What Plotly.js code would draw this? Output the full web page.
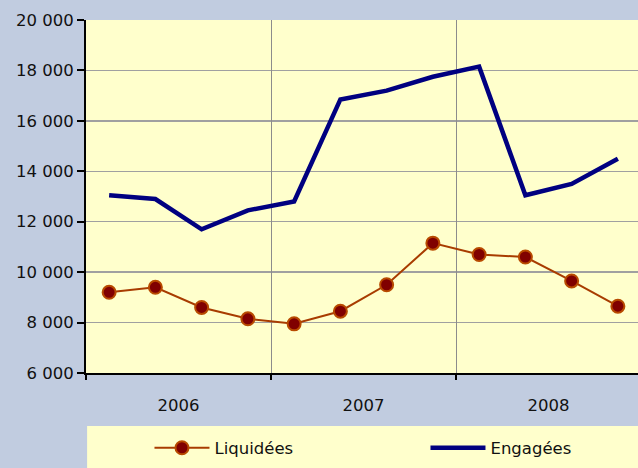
<!DOCTYPE html>
<html>
<head>
<meta charset="utf-8">
<script src="https://cdn.plot.ly/plotly-3.0.1.min.js"></script>
<style>html,body{margin:0;padding:0;background:#c1cce0;}#chart{width:638px;height:468px;}</style>
</head>
<body>
<div id="chart"></div>
<script>
// Quarterly data, 2006 Q1 .. 2008 Q4
const quarters = [0, 1, 2, 3, 4, 5, 6, 7, 8, 9, 10, 11];
const liquidees = [9200, 9400, 8600, 8150, 7950, 8450, 9500, 11150, 10700, 10600, 9650, 8650];
const engagees = [13050, 12900, 11700, 12450, 12800, 16850, 17200, 17750, 18150, 13050, 13500, 14500];
const yearLabels = ['2006', '2007', '2008'];
const yearCenters = [1.5, 5.5, 9.5];
const yearBounds = [-0.5, 3.5, 7.5];

const font = {family: 'DejaVu Sans, sans-serif', size: 16.5, color: '#111'};

const traces = [
  {
    x: quarters, y: liquidees, name: 'Liquidées', type: 'scatter', mode: 'lines+markers',
    line: {color: '#a83c00', width: 2},
    marker: {size: 13, color: '#800000', line: {color: '#b84a00', width: 2}},
    legend: 'legend'
  },
  {
    x: quarters, y: engagees, name: 'Engagées', type: 'scatter', mode: 'lines',
    line: {color: '#000080', width: 4.5},
    legend: 'legend2'
  },
  {
    x: [yearBounds[0]], y: [null], xaxis: 'x2', showlegend: false, hoverinfo: 'skip', type: 'scatter'
  }
];

const xr = [-0.5, -0.5 + 552 / 46.25];

const legendBase = {
  orientation: 'h', y: -0.2125, xanchor: 'left', yanchor: 'middle',
  bgcolor: 'rgba(0,0,0,0)', font: font, itemwidth: 55
};

const layout = {
  width: 638, height: 468,
  margin: {l: 86, r: 0, t: 20, b: 95, pad: 0},
  paper_bgcolor: '#c1cce0',
  plot_bgcolor: '#ffffcc',
  font: font,
  separators: ', ',
  showlegend: true,
  xaxis: {
    range: xr, showgrid: false, zeroline: false,
    tickmode: 'array', tickvals: yearCenters, ticktext: yearLabels,
    ticks: 'outside', ticklen: 16, tickcolor: 'rgba(0,0,0,0)',
    showline: true, linecolor: '#000', linewidth: 2,
    tickfont: font
  },
  xaxis2: {
    overlaying: 'x', matches: 'x', range: xr,
    tickmode: 'array', tickvals: yearBounds, showticklabels: false,
    showgrid: true, gridcolor: '#8c8c8c', gridwidth: 1, zeroline: false,
    ticks: 'outside', ticklen: 6, tickwidth: 2, tickcolor: '#000',
    showline: false
  },
  yaxis: {
    range: [6000, 20000], tickmode: 'linear', tick0: 6000, dtick: 2000,
    tickformat: ',d', showgrid: true, gridcolor: '#a0a0a0', gridwidth: 1.5,
    zeroline: false, showline: true, linecolor: '#000', linewidth: 2,
    ticks: 'outside', ticklen: 7, tickwidth: 2, tickcolor: '#000',
    tickfont: font
  },
  shapes: [
    {type: 'rect', xref: 'paper', yref: 'paper', x0: 0.002, x1: 1.01, y0: -0.150, y1: -0.30,
     fillcolor: '#ffffcc', line: {width: 0}, layer: 'below'}
  ],
  legend: Object.assign({}, legendBase, {x: 0.115}),
  legend2: Object.assign({}, legendBase, {x: 0.615})
};

Plotly.newPlot('chart', traces, layout, {displayModeBar: false, staticPlot: true});
</script>
</body>
</html>
